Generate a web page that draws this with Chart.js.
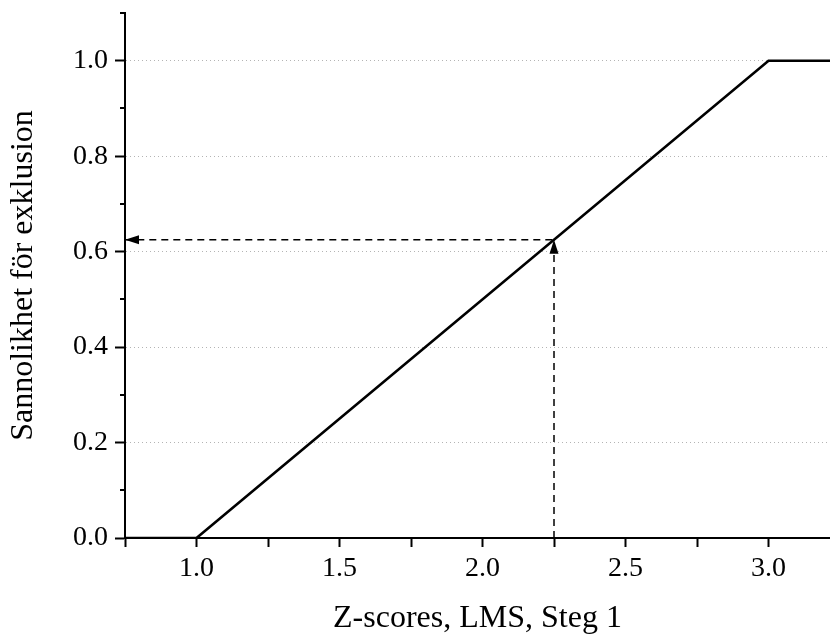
<!doctype html>
<html>
<head>
<meta charset="utf-8">
<title>Sannolikhet för exklusion</title>
<style>
  html,body{margin:0;padding:0;background:#fff}
  #wrap{width:830px;height:636px}
</style>
</head>
<body>
<div id="wrap"><canvas id="chart"></canvas></div>
<script src="https://cdn.jsdelivr.net/npm/chart.js@4.4.1/dist/chart.umd.min.js"></script>
<script>
// exclusion probability vs z-score
const zScores = [0.75, 1.0, 3.0, 3.215];
const probability = [0, 0, 1, 1];

// reading guide: up from z = 2.25 to the line, then across to the y axis
const guideZ = [2.25, 2.25, 0.75];
const guideP = [0, 0.625, 0.625];

const xMin = 0.75, xMax = 3.215;
const yMin = 0, yMax = 1.1;
const xTickStep = 0.25;
const yTickStep = 0.1;
const yMinorTicks = [0.1, 0.3, 0.5, 0.7, 0.9, 1.1];

const FONT = "'Liberation Serif', 'Times New Roman', serif";

const near = (v, step) => Math.abs(v / step - Math.round(v / step)) < 1e-6;
const isYMajor = v => near(v, 0.2) && v < 1.05;

// short minor ticks on the y axis + arrow heads on the guide lines
const extras = {
  id: 'extras',
  afterDraw(chart) {
    const ctx = chart.ctx;
    const y = chart.scales.y;
    ctx.save();
    ctx.strokeStyle = '#000';
    ctx.lineWidth = 2;
    yMinorTicks.forEach(v => {
      const py = Math.round(y.getPixelForValue(v));
      ctx.beginPath();
      ctx.moveTo(y.right - 5, py);
      ctx.lineTo(y.right, py);
      ctx.stroke();
    });

    const pts = chart.getDatasetMeta(1).data;
    ctx.fillStyle = '#000';
    [1, 2].forEach(i => {
      const a = pts[i - 1], b = pts[i];
      const ang = Math.atan2(b.y - a.y, b.x - a.x);
      const len = 14, half = 4.5;
      ctx.save();
      ctx.translate(b.x, b.y);
      ctx.rotate(ang);
      ctx.beginPath();
      ctx.moveTo(0, 0);
      ctx.lineTo(-len, -half);
      ctx.lineTo(-len, half);
      ctx.closePath();
      ctx.fill();
      ctx.restore();
    });
    ctx.restore();
  }
};

new Chart(document.getElementById('chart'), {
  type: 'scatter',
  data: {
    datasets: [
      {
        data: zScores.map((x, i) => ({x, y: probability[i]})),
        showLine: true,
        borderColor: '#000',
        borderWidth: 2.6,
        pointRadius: 0,
        tension: 0
      },
      {
        data: guideZ.map((x, i) => ({x, y: guideP[i]})),
        showLine: true,
        borderColor: '#000',
        borderWidth: 1.5,
        borderDash: [7, 5],
        pointRadius: 0,
        tension: 0
      }
    ]
  },
  options: {
    responsive: true,
    maintainAspectRatio: false,
    animation: false,
    devicePixelRatio: 1,
    layout: {padding: {top: 13, right: 0, bottom: 0, left: 0}},
    plugins: {legend: {display: false}, tooltip: {enabled: false}},
    scales: {
      x: {
        type: 'linear',
        min: xMin,
        max: xMax,
        afterFit: s => { s.height = 98; s.paddingLeft = 0; s.paddingRight = 0; },
        border: {display: true, color: '#000', width: 2},
        grid: {
          drawOnChartArea: false,
          tickLength: 9,
          tickWidth: 2,
          tickColor: c => (c.tick && near(c.tick.value, xTickStep)) ? '#000' : 'transparent'
        },
        ticks: {
          stepSize: xTickStep,
          includeBounds: false,
          autoSkip: false,
          maxRotation: 0,
          padding: 5,
          color: '#000',
          font: {family: FONT, size: 28},
          callback: v => (near(v, 0.5) && v > 0.8) ? v.toFixed(1) : ''
        },
        title: {
          display: true,
          text: 'Z-scores, LMS, Steg 1',
          color: '#000',
          font: {family: FONT, size: 32, lineHeight: 1},
          padding: {top: 0, bottom: 1}
        }
      },
      y: {
        type: 'linear',
        min: yMin,
        max: yMax,
        afterFit: s => { s.width = 125; s.paddingTop = 0; s.paddingBottom = 0; },
        border: {display: true, color: '#000', width: 2, dash: [1, 3]},
        grid: {
          lineWidth: 1,
          color: c => (c.tick && isYMajor(c.tick.value) && c.tick.value > 0.01) ? '#b4b4b4' : 'transparent',
          tickLength: 10,
          tickWidth: 2,
          tickColor: c => (c.tick && isYMajor(c.tick.value)) ? '#000' : 'transparent'
        },
        ticks: {
          stepSize: yTickStep,
          autoSkip: false,
          padding: 7,
          color: '#000',
          font: {family: FONT, size: 28},
          callback: v => isYMajor(v) ? v.toFixed(1) : ''
        },
        title: {
          display: true,
          text: 'Sannolikhet för exklusion',
          color: '#000',
          font: {family: FONT, size: 32, lineHeight: 1},
          padding: {top: 8, bottom: 0}
        }
      }
    }
  },
  plugins: [extras]
});
</script>
</body>
</html>
